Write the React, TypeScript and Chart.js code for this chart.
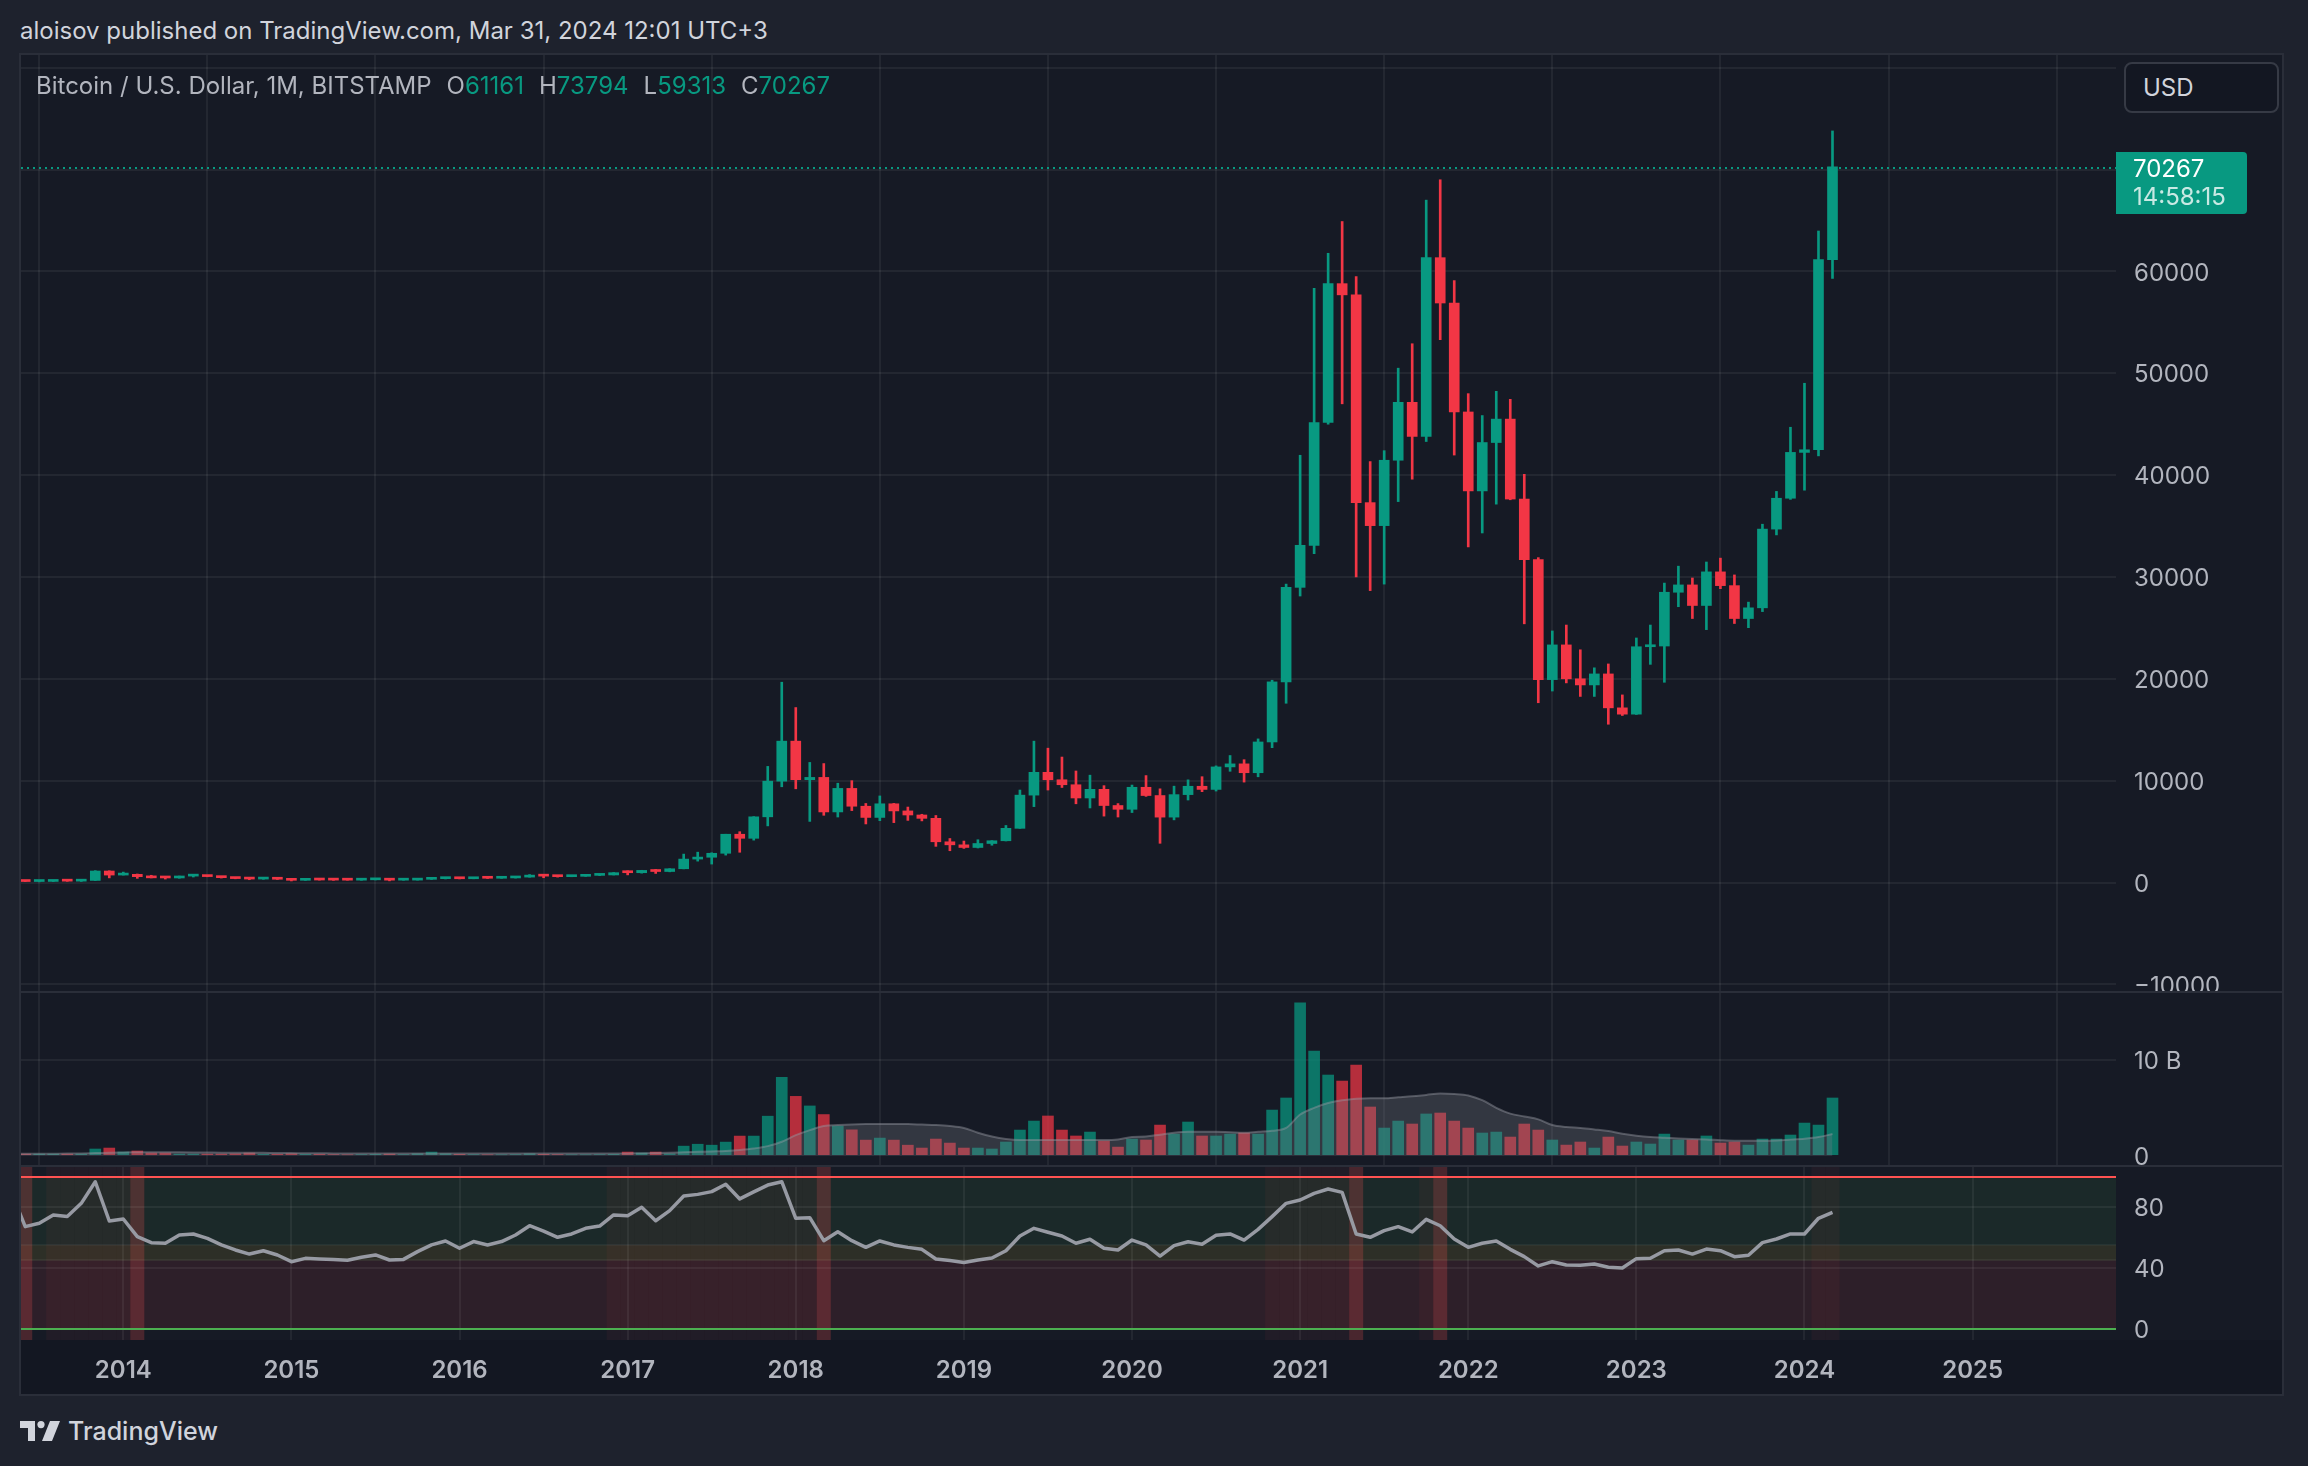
import React, { useEffect, useRef } from 'react';
import { Chart, registerables } from 'chart.js';

Chart.register(...registerables);

// ---------- data ----------
const months = [
  '2013-05', '2013-06', '2013-07', '2013-08', '2013-09', '2013-10', '2013-11', '2013-12',
  '2014-01', '2014-02', '2014-03', '2014-04', '2014-05', '2014-06', '2014-07', '2014-08', '2014-09', '2014-10', '2014-11', '2014-12',
  '2015-01', '2015-02', '2015-03', '2015-04', '2015-05', '2015-06', '2015-07', '2015-08', '2015-09', '2015-10', '2015-11', '2015-12',
  '2016-01', '2016-02', '2016-03', '2016-04', '2016-05', '2016-06', '2016-07', '2016-08', '2016-09', '2016-10', '2016-11', '2016-12',
  '2017-01', '2017-02', '2017-03', '2017-04', '2017-05', '2017-06', '2017-07', '2017-08', '2017-09', '2017-10', '2017-11', '2017-12',
  '2018-01', '2018-02', '2018-03', '2018-04', '2018-05', '2018-06', '2018-07', '2018-08', '2018-09', '2018-10', '2018-11', '2018-12',
  '2019-01', '2019-02', '2019-03', '2019-04', '2019-05', '2019-06', '2019-07', '2019-08', '2019-09', '2019-10', '2019-11', '2019-12',
  '2020-01', '2020-02', '2020-03', '2020-04', '2020-05', '2020-06', '2020-07', '2020-08', '2020-09', '2020-10', '2020-11', '2020-12',
  '2021-01', '2021-02', '2021-03', '2021-04', '2021-05', '2021-06', '2021-07', '2021-08', '2021-09', '2021-10', '2021-11', '2021-12',
  '2022-01', '2022-02', '2022-03', '2022-04', '2022-05', '2022-06', '2022-07', '2022-08', '2022-09', '2022-10', '2022-11', '2022-12',
  '2023-01', '2023-02', '2023-03', '2023-04', '2023-05', '2023-06', '2023-07', '2023-08', '2023-09', '2023-10', '2023-11', '2023-12',
  '2024-01', '2024-02', '2024-03',
];

const opens = [
  139, 129, 97, 106, 135, 133, 204, 1129,
  731, 803, 573, 458, 446, 628, 638, 581, 478, 386, 338, 378,
  320, 217, 254, 244, 236, 230, 263, 284, 230, 236, 314, 378,
  430, 369, 437, 416, 448, 531, 673, 624, 573, 608, 700, 742,
  966, 962, 1190, 1080, 1350, 2300, 2480, 2870, 4740, 4340, 6450, 9950,
  13880, 10100, 10320, 6930, 9240, 7490, 6390, 7730, 7030, 6630, 6300, 4000,
  3700, 3440, 3830, 4100, 5320, 8580, 10820, 10090, 9600, 8300, 9150, 7560,
  7190, 9350, 8540, 6420, 8630, 9450, 9140, 11350, 11650, 10780, 13800, 19700,
  28980, 33110, 45170, 58800, 57700, 37300, 35040, 41460, 47150, 43800, 61350, 56900,
  46200, 38450, 43200, 45500, 37650, 31700, 19920, 23330, 20000, 19400, 20480, 17150,
  16530, 23150, 23220, 28500, 29220, 27200, 30500, 29150, 25920, 26970, 34700, 37730,
  42230, 42490, 61161,
];

const highs = [
  140, 130, 110, 136, 146, 215, 1163, 1150,
  1022, 835, 710, 545, 633, 680, 650, 600, 490, 415, 460, 385,
  320, 265, 300, 261, 247, 268, 318, 286, 247, 336, 495, 468,
  463, 448, 440, 470, 550, 780, 704, 626, 630, 715, 756, 980,
  1150, 1200, 1290, 1360, 2790, 2980, 2920, 4740, 4990, 6470, 11400, 19666,
  17180, 11790, 11680, 9750, 10000, 7760, 8500, 7770, 7410, 6700, 6580, 4320,
  4070, 4200, 4110, 5600, 9080, 13880, 13190, 12320, 10950, 10540, 9510, 7750,
  9570, 10500, 9200, 9460, 10080, 10390, 11450, 12470, 12060, 14100, 19860, 29300,
  41950, 58350, 61780, 64900, 59500, 41330, 42400, 50500, 52900, 67000, 69000, 59100,
  48000, 45850, 48230, 47440, 40080, 31900, 24700, 25280, 22850, 21080, 21460, 18420,
  24010, 25280, 29400, 31060, 29900, 31470, 31850, 30200, 27530, 35180, 38400, 44700,
  49020, 63970, 73794,
];

const lows = [
  79, 88, 65, 100, 118, 105, 196, 455,
  727, 410, 450, 340, 420, 540, 565, 440, 365, 275, 317, 300,
  152, 212, 235, 213, 227, 221, 253, 162, 225, 236, 300, 350,
  354, 365, 394, 412, 436, 520, 470, 530, 565, 605, 680, 740,
  750, 920, 890, 1050, 1340, 2100, 1810, 2690, 2970, 4160, 5560, 9400,
  9200, 6000, 6600, 6430, 7060, 5750, 6070, 5880, 6100, 6050, 3550, 3120,
  3350, 3390, 3660, 4080, 5320, 7450, 9080, 9330, 7730, 7320, 6520, 6430,
  6870, 8460, 3850, 6150, 8100, 8920, 8980, 10920, 9860, 10380, 13240, 17600,
  28130, 32300, 45000, 47000, 30000, 28660, 29300, 37400, 39600, 43300, 53300, 41970,
  32950, 34320, 37150, 37580, 25400, 17650, 18800, 19600, 18270, 18270, 15540, 16400,
  16500, 21420, 19660, 27080, 25920, 24830, 28850, 25430, 25020, 26600, 34130, 37620,
  38520, 41890, 59313,
];

const closes = [
  129, 97, 106, 135, 133, 204, 1129, 731,
  803, 573, 458, 446, 628, 638, 581, 478, 386, 338, 378, 320,
  217, 254, 244, 236, 230, 263, 284, 230, 236, 314, 378, 430,
  369, 437, 416, 448, 531, 673, 624, 573, 608, 700, 742, 966,
  962, 1190, 1080, 1350, 2300, 2480, 2870, 4740, 4340, 6450, 9950, 13880,
  10100, 10320, 6930, 9240, 7490, 6390, 7730, 7030, 6630, 6300, 4000, 3700,
  3440, 3830, 4100, 5320, 8580, 10820, 10090, 9600, 8300, 9150, 7560, 7190,
  9350, 8540, 6420, 8630, 9450, 9140, 11350, 11650, 10780, 13800, 19700, 28980,
  33110, 45170, 58800, 57700, 37300, 35040, 41460, 47150, 43800, 61350, 56900, 46200,
  38450, 43200, 45500, 37650, 31700, 19920, 23330, 20000, 19400, 20480, 17150, 16530,
  23150, 23220, 28500, 29220, 27200, 30500, 29150, 25920, 26970, 34700, 37730, 42230,
  42490, 61161, 70267,
];

// monthly volume, billions
const volumes = [
  0.15, 0.17, 0.17, 0.17, 0.17, 0.17, 0.7, 0.8,
  0.38, 0.49, 0.28, 0.28, 0.17, 0.17, 0.17, 0.17, 0.2, 0.28, 0.15, 0.15,
  0.2, 0.15, 0.15, 0.12, 0.1, 0.12, 0.15, 0.17, 0.12, 0.2, 0.38, 0.2,
  0.15, 0.12, 0.1, 0.1, 0.12, 0.2, 0.15, 0.12, 0.1, 0.1, 0.12, 0.15,
  0.38, 0.28, 0.38, 0.2, 1.0, 1.2, 1.1, 1.42, 2.05, 2.05, 4.13, 8.2,
  6.2, 5.2, 4.3, 3.1, 2.7, 1.63, 1.84, 1.63, 1.1, 0.8, 1.74, 1.32,
  0.8, 0.8, 0.7, 1.43, 2.68, 3.62, 4.15, 2.68, 2.06, 2.47, 1.53, 0.9,
  1.74, 1.64, 3.2, 2.26, 3.52, 2.06, 2.06, 2.26, 2.37, 2.26, 4.77, 6.03,
  15.96, 10.94, 8.43, 7.8, 9.48, 5.09, 2.89, 3.62, 3.31, 4.36, 4.46, 3.62,
  2.89, 2.37, 2.47, 1.95, 3.31, 2.68, 1.64, 1.11, 1.43, 0.8, 1.95, 1.01,
  1.43, 1.22, 2.26, 1.64, 1.64, 2.06, 1.32, 1.43, 1.11, 1.74, 1.74, 2.16,
  3.41, 3.2, 6.03,
];

// volume moving average, billions
const volumeMA = [
  0.2, 0.2, 0.2, 0.21, 0.22, 0.24, 0.28, 0.32,
  0.34, 0.36, 0.36, 0.36, 0.35, 0.34, 0.33, 0.32, 0.32, 0.31, 0.3, 0.28,
  0.27, 0.26, 0.25, 0.24, 0.23, 0.22, 0.22, 0.22, 0.22, 0.22, 0.23, 0.23,
  0.23, 0.23, 0.22, 0.22, 0.22, 0.22, 0.22, 0.22, 0.22, 0.22, 0.22, 0.23,
  0.24, 0.25, 0.27, 0.3, 0.35, 0.4, 0.45, 0.5, 0.6, 0.75, 1.0, 1.46,
  2.15, 2.67, 3.1, 3.2, 3.27, 3.3, 3.3, 3.3, 3.3, 3.25, 3.2, 3.1,
  2.9, 2.4, 2.0, 1.74, 1.64, 1.64, 1.64, 1.64, 1.64, 1.64, 1.64, 1.7,
  1.95, 2.0, 2.2, 2.4, 2.5, 2.5, 2.5, 2.45, 2.4, 2.5, 2.6, 2.9,
  4.3, 5.0, 5.5, 5.8, 5.96, 6.0, 6.0, 6.1, 6.2, 6.35, 6.5, 6.45,
  6.3, 5.8, 5.0, 4.4, 4.1, 3.8, 3.2, 3.0, 2.9, 2.75, 2.58, 2.3,
  2.09, 1.95, 1.88, 1.8, 1.74, 1.7, 1.62, 1.57, 1.57, 1.57, 1.6, 1.68,
  1.78, 1.95, 2.26,
];

const rsi = [
  90, 67.2, 69.4, 74.9, 73.8, 82.5, 96.7, 70.9,
  72.2, 60.6, 56.7, 56.3, 61.7, 62.4, 59.5, 55.2, 51.9, 49.2, 51.4, 48.6,
  44.2, 46.4, 46.0, 45.7, 45.1, 47.1, 48.6, 45.3, 45.7, 50.8, 55.2, 57.8,
  53.0, 57.4, 55.2, 57.4, 61.7, 67.8, 64.3, 60.2, 62.4, 66.1, 67.6, 74.9,
  74.4, 79.9, 71.1, 77.7, 87.3, 88.4, 90.2, 95.0, 85.4, 90.0, 94.5, 96.7,
  72.7, 73.1, 58.0, 63.9, 58.0, 53.6, 57.8, 55.2, 53.6, 52.3, 46.0, 44.9,
  43.6, 45.3, 46.6, 51.4, 61.1, 66.1, 63.5, 61.1, 56.3, 58.9, 53.0, 51.9,
  58.4, 55.2, 47.9, 54.7, 57.3, 55.6, 61.5, 62.4, 58.4, 65.4, 73.8, 82.5,
  84.7, 89.1, 91.9, 89.7, 62.4, 60.2, 64.6, 67.2, 63.7, 72.0, 67.8, 59.1,
  53.6, 56.3, 57.8, 52.3, 47.5, 41.4, 44.2, 42.0, 41.8, 42.7, 40.5, 40.1,
  46.2, 46.4, 51.4, 51.9, 49.2, 52.5, 51.4, 47.5, 48.4, 56.7, 59.1, 62.4,
  62.4, 72.7, 76.6,
];

// background highlight per month: 0 none, 1 light, 2 strong
const rsiZones = [
  0, 2, 0, 1, 1, 1, 1, 1,
  1, 2, 0, 0, 0, 0, 0, 0, 0, 0, 0, 0,
  0, 0, 0, 0, 0, 0, 0, 0, 0, 0, 0, 0,
  0, 0, 0, 0, 0, 0, 0, 0, 0, 0, 0, 1,
  1, 1, 1, 1, 1, 1, 1, 1, 1, 1, 1, 1,
  1, 1, 2, 0, 0, 0, 0, 0, 0, 0, 0, 0,
  0, 0, 0, 0, 0, 0, 0, 0, 0, 0, 0, 0,
  0, 0, 0, 0, 0, 0, 0, 0, 0, 0, 1, 1,
  1, 1, 1, 1, 2, 0, 0, 0, 0, 1, 2, 0,
  0, 0, 0, 0, 0, 0, 0, 0, 0, 0, 0, 0,
  0, 0, 0, 0, 0, 0, 0, 0, 0, 0, 0, 0,
  0, 1, 1,
];

const yearTicks = [2014, 2015, 2016, 2017, 2018, 2019, 2020, 2021, 2022, 2023, 2024, 2025];
const priceTicks = [-10000, 0, 10000, 20000, 30000, 40000, 50000, 60000, 70000, 80000];
const volumeTicks = [0, 10];
const rsiTicks = [0, 40, 80];
const rsiBands = [
  { from: 55, to: 100, color: 'rgba(76,175,80,0.10)' },
  { from: 45, to: 55, color: 'rgba(255,235,59,0.10)' },
  { from: 0, to: 45, color: 'rgba(255,82,82,0.10)' },
];
const countdown = '14:58:15';

// ---------- style ----------
const FONT = 'Inter, "Noto Sans", sans-serif';
const UP = '#089981';
const DOWN = '#f23645';
const UP_VOL = 'rgba(8,153,129,0.72)';
const DOWN_VOL = 'rgba(242,54,69,0.72)';
const GRID = 'rgba(255,255,255,0.06)';
const AXIS_TEXT = '#b2b5be';
const X_MIN = 2013.3915;
const X_MAX = 2025.853;
const AXIS_W = 166;

const xs = months.map((m) => {
  const [y, mo] = m.split('-').map(Number);
  return y + (mo - 1) / 12;
});
const isUp = opens.map((o, i) => closes[i] >= o);

const fmt = (v: number) => (v < 0 ? '\u2212' + Math.abs(v) : String(v));

function xScale(showLabels: boolean, height: number) {
  return {
    type: 'linear',
    min: X_MIN,
    max: X_MAX,
    bounds: 'data',
    offset: false,
    grid: { color: GRID, lineWidth: 2, drawTicks: false },
    border: { display: false },
    ticks: {
      display: showLabels,
      autoSkip: false,
      maxRotation: 0,
      padding: 16,
      color: AXIS_TEXT,
      font: { family: FONT, size: 24, weight: '600' },
      callback: (v: number) => String(v),
    },
    afterBuildTicks: (s: any) => {
      s.ticks = yearTicks.map((v) => ({ value: v }));
    },
    afterFit: (s: any) => {
      s.height = height;
      s.paddingLeft = 0;
      s.paddingRight = 0;
    },
  };
}

function yScale(min: number, max: number, ticks: number[], fmtLabel: (v: number) => string, hideGridAt?: number) {
  return {
    type: 'linear',
    position: 'right',
    min,
    max,
    bounds: 'data',
    grid: {
      lineWidth: 2,
      drawTicks: false,
      color: (c: any) => (c.tick && c.tick.value === hideGridAt ? 'rgba(0,0,0,0)' : GRID),
    },
    border: { display: false },
    ticks: {
      padding: 18,
      labelOffset: 2,
      color: AXIS_TEXT,
      font: { family: FONT, size: 24 },
      callback: (v: number) => fmtLabel(v),
    },
    afterBuildTicks: (s: any) => {
      s.ticks = ticks.map((v) => ({ value: v }));
    },
    afterFit: (s: any) => {
      s.width = AXIS_W;
      s.paddingTop = 0;
      s.paddingBottom = 0;
    },
  };
}

const baseOptions = {
  responsive: false,
  animation: false,
  events: [],
  layout: { padding: 0 },
  plugins: { legend: { display: false }, tooltip: { enabled: false } },
};

const lastClose = closes[closes.length - 1];

const lastPricePlugin = {
  id: 'lastPrice',
  beforeDatasetsDraw(chart: any) {
    const { ctx, chartArea, scales } = chart;
    const py = Math.round(scales.y.getPixelForValue(lastClose)) + 1;
    ctx.save();
    ctx.strokeStyle = UP;
    ctx.lineWidth = 2;
    ctx.setLineDash([2, 4]);
    ctx.beginPath();
    ctx.moveTo(chartArea.left, py);
    ctx.lineTo(chartArea.right, py);
    ctx.stroke();
    ctx.restore();
  },
  afterDraw(chart: any) {
    const { ctx, chartArea, scales } = chart;
    const py = Math.round(scales.y.getPixelForValue(lastClose)) + 1;
    const x0 = chartArea.right;
    ctx.save();
    ctx.fillStyle = UP;
    ctx.beginPath();
    ctx.roundRect(x0, py - 16, 131, 62, [0, 4, 4, 0]);
    ctx.fill();
    ctx.textBaseline = 'middle';
    ctx.textAlign = 'left';
    ctx.font = `24px ${FONT}`;
    ctx.fillStyle = '#ffffff';
    ctx.fillText(String(lastClose), x0 + 17, py + 2);
    ctx.fillStyle = 'rgba(255,255,255,0.78)';
    ctx.fillText(countdown, x0 + 17, py + 30);
    ctx.restore();
  },
};

const rsiPlugin = {
  id: 'rsiDecor',
  beforeDraw(chart: any) {
    const { ctx, chartArea, scales } = chart;
    const { x, y } = scales;
    ctx.save();
    ctx.beginPath();
    ctx.rect(chartArea.left, chartArea.top, chartArea.right - chartArea.left, chartArea.bottom - chartArea.top);
    ctx.clip();
    rsiBands.forEach((b) => {
      const top = y.getPixelForValue(b.to);
      const bot = y.getPixelForValue(b.from);
      ctx.fillStyle = b.color;
      ctx.fillRect(chartArea.left, top, chartArea.right - chartArea.left, bot - top);
    });
    rsiZones.forEach((z, i) => {
      if (!z) return;
      const l = x.getPixelForValue(xs[i] - 1 / 24);
      const r = x.getPixelForValue(xs[i] + 1 / 24);
      ctx.fillStyle = z === 2 ? 'rgba(255,82,82,0.22)' : 'rgba(255,82,82,0.05)';
      ctx.fillRect(l, chartArea.top, r - l, chartArea.bottom - chartArea.top);
    });
    ctx.strokeStyle = 'rgba(255,255,255,0.05)';
    ctx.lineWidth = 2;
    [55, 45].forEach((v) => {
      const py = Math.round(y.getPixelForValue(v));
      ctx.beginPath();
      ctx.moveTo(chartArea.left, py);
      ctx.lineTo(chartArea.right, py);
      ctx.stroke();
    });
    ctx.restore();
  },
  beforeDatasetsDraw(chart: any) {
    const { ctx, chartArea, scales } = chart;
    const { y } = scales;
    ctx.save();
    ctx.lineWidth = 2;
    [
      { v: 100, c: '#ff5252' },
      { v: 0, c: '#4caf50' },
    ].forEach(({ v, c }) => {
      const py = Math.round(y.getPixelForValue(v));
      ctx.strokeStyle = c;
      ctx.beginPath();
      ctx.moveTo(chartArea.left, py);
      ctx.lineTo(chartArea.right, py);
      ctx.stroke();
    });
    ctx.restore();
  },
};

function priceConfig(): any {
  const colors = isUp.map((u) => (u ? UP : DOWN));
  return {
    type: 'bar',
    data: {
      datasets: [
        {
          data: xs.map((x, i) => ({ x, y: [opens[i], closes[i]] })),
          backgroundColor: colors,
          barThickness: 10,
          minBarLength: 2,
          grouped: false,
          order: 0,
        },
        {
          data: xs.map((x, i) => ({ x, y: [lows[i], highs[i]] })),
          backgroundColor: colors,
          barThickness: 2,
          grouped: false,
          order: 1,
        },
      ],
    },
    options: {
      ...baseOptions,
      scales: {
        x: xScale(false, 0),
        y: yScale(-10750, 81250, priceTicks, (v) => (v > 65000 ? '' : fmt(v))),
      },
    },
    plugins: [lastPricePlugin],
  };
}

function volumeConfig(): any {
  return {
    type: 'bar',
    data: {
      datasets: [
        {
          type: 'line',
          data: xs.map((x, i) => ({ x, y: volumeMA[i] })),
          borderColor: 'rgba(150,153,162,0.45)',
          borderWidth: 2,
          backgroundColor: 'rgba(120,123,134,0.30)',
          fill: 'origin',
          pointRadius: 0,
          tension: 0.4,
          cubicInterpolationMode: 'monotone',
          order: 0,
        },
        {
          data: xs.map((x, i) => ({ x, y: volumes[i] })),
          backgroundColor: isUp.map((u) => (u ? UP_VOL : DOWN_VOL)),
          barThickness: 11,
          grouped: false,
          order: 1,
        },
      ],
    },
    options: {
      ...baseOptions,
      scales: {
        x: xScale(false, 0),
        y: yScale(-1.076, 17.0, volumeTicks, (v) => (v === 0 ? '0' : `${v} B`), 0),
      },
    },
  };
}

function rsiConfig(): any {
  return {
    type: 'line',
    data: {
      datasets: [
        {
          data: xs.map((x, i) => ({ x, y: rsi[i] })),
          borderColor: '#979aa3',
          borderWidth: 3.5,
          borderJoinStyle: 'round',
          pointRadius: 0,
          tension: 0,
          fill: false,
        },
      ],
    },
    options: {
      ...baseOptions,
      scales: {
        x: xScale(true, 54),
        y: yScale(-7.23, 106.37, rsiTicks, (v) => String(v), 0),
      },
    },
    plugins: [rsiPlugin],
  };
}

const abs = (left: number, top: number, width: number, height: number, extra: any = {}) => ({
  position: 'absolute' as const,
  left,
  top,
  width,
  height,
  ...extra,
});

export default function App() {
  const priceRef = useRef<HTMLCanvasElement>(null);
  const volRef = useRef<HTMLCanvasElement>(null);
  const rsiRef = useRef<HTMLCanvasElement>(null);

  useEffect(() => {
    document.body.style.margin = '0';
    const charts = [
      new Chart(priceRef.current as HTMLCanvasElement, priceConfig()),
      new Chart(volRef.current as HTMLCanvasElement, volumeConfig()),
      new Chart(rsiRef.current as HTMLCanvasElement, rsiConfig()),
    ];
    return () => charts.forEach((c) => c.destroy());
  }, []);

  const last = closes.length - 1;
  const ohlc = [
    ['O', opens[last]],
    ['H', highs[last]],
    ['L', lows[last]],
    ['C', closes[last]],
  ];

  return (
    <div style={{ position: 'fixed', left: 0, top: 0, width: 2308, height: 1466, background: '#1e222d', overflow: 'hidden', fontFamily: FONT }}>
      <div style={abs(20, 16, 1200, 30, { color: '#d1d4dc', fontSize: 24, lineHeight: '30px', whiteSpace: 'pre' })}>
        aloisov published on TradingView.com, Mar 31, 2024 12:01 UTC+3
      </div>

      <div style={abs(19, 53, 2265, 1343, { boxSizing: 'border-box', border: '2px solid #2a2e39', background: '#161a25' })} />
      <div style={abs(21, 1340, 2261, 54, { background: '#131722' })} />

      <canvas ref={priceRef} width={2261} height={937} style={abs(21, 55, 2261, 937)} />
      <canvas ref={volRef} width={2261} height={173} style={abs(21, 993, 2261, 173)} />
      <canvas ref={rsiRef} width={2261} height={227} style={abs(21, 1167, 2261, 227)} />

      <div style={abs(21, 991, 2261, 2, { background: '#2a2e39' })} />
      <div style={abs(21, 1165, 2261, 2, { background: '#2a2e39' })} />

      <div style={abs(36, 71, 1200, 30, { color: '#b2b5be', fontSize: 24, lineHeight: '30px', whiteSpace: 'pre' })}>
        <span>Bitcoin / U.S. Dollar, 1M, BITSTAMP</span>
        {ohlc.map(([k, v]) => (
          <span key={k as string} style={{ marginLeft: 15 }}>
            {k}
            <span style={{ color: UP }}>{v}</span>
          </span>
        ))}
      </div>

      <div
        style={abs(2124, 62, 155, 51, {
          boxSizing: 'border-box',
          border: '2px solid #363a45',
          borderRadius: 8,
          background: '#131722',
          color: '#d1d4dc',
          fontSize: 24,
          lineHeight: '47px',
          paddingLeft: 17,
        })}
      >
        USD
      </div>

      <svg style={abs(20, 1421, 40, 20)} viewBox="0 0 40 20">
        <path d="M0 0 H15 V20 H8 V7 H0 Z" fill="#d1d4dc" />
        <circle cx="21" cy="3.6" r="3.6" fill="#d1d4dc" />
        <path d="M30 0 H40 L32 20 H22 Z" fill="#d1d4dc" />
      </svg>
      <div style={abs(68, 1416, 300, 30, { color: '#d1d4dc', fontSize: 25, lineHeight: '30px', fontWeight: 500 })}>
        TradingView
      </div>
    </div>
  );
}
